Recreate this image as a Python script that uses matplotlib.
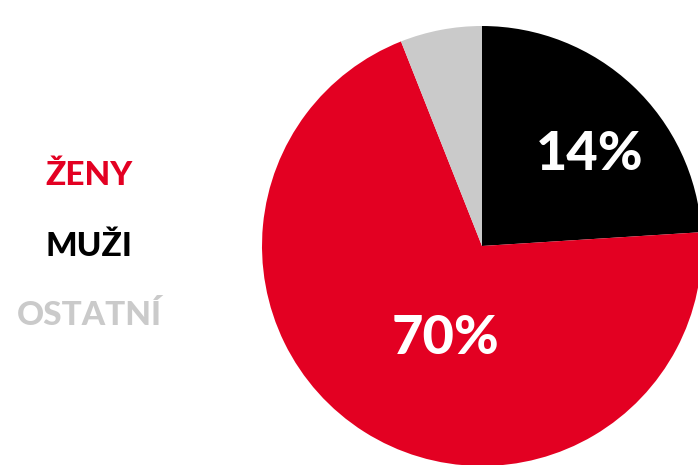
import matplotlib
matplotlib.use('Agg')
import matplotlib.pyplot as plt

# slice shares as they appear in the picture (clockwise from 12 o'clock)
slice_names = ['MUŽI', 'ŽENY', 'OSTATNÍ']
slice_values = [24, 70, 6]
slice_colors = ['#000000', '#e30022', '#cacaca']
slice_labels = ['14%', '70%', '']

legend_names = ['ŽENY', 'MUŽI', 'OSTATNÍ']
legend_colors = ['#e30022', '#000000', '#cacaca']

W, H = 698, 465
fig = plt.figure(figsize=(W/100, H/100), dpi=100)
ax = fig.add_axes([0, 0, 1, 1])

cx, cy, r = 482, H - 246, 220
wedges, _ = ax.pie(slice_values, colors=slice_colors, startangle=90,
                   counterclock=False, center=(cx, cy), radius=r,
                   frame=True)
ax.set_xlim(0, W)
ax.set_ylim(0, H)
ax.set_aspect('equal')
ax.axis('off')

font = ['Lato', 'DejaVu Sans']

# percentage labels
lab_pos = [(590, H - 154), (445, H - 339)]
for (x, y), t in zip(lab_pos, slice_labels[:2]):
    ax.text(x, y, t, color='white', fontsize=39, fontweight='black',
            family=font, ha='center', va='center')

# category names on the left
leg_y = [175, 246, 315]
for y, name, c in zip(leg_y, legend_names, legend_colors):
    ax.text(89, H - y, name, color=c, fontsize=24, fontweight='black',
            family=font, ha='center', va='center')

fig.savefig('out.png', dpi=100)
